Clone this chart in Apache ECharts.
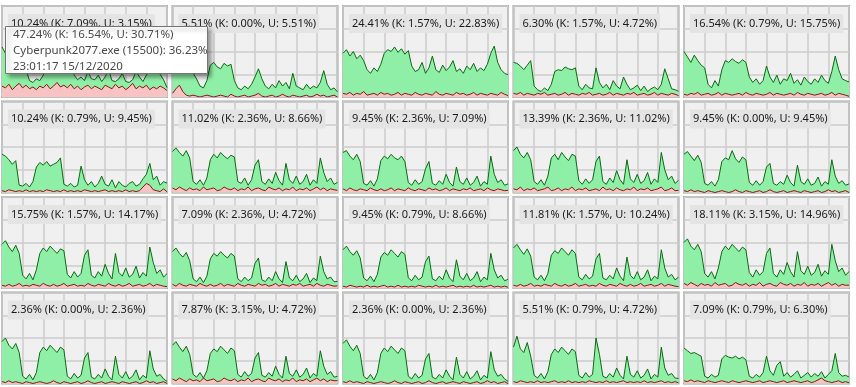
<!DOCTYPE html>
<html><head><meta charset="utf-8">
<script src="https://cdn.jsdelivr.net/npm/echarts@6/dist/echarts.min.js"></script>
<style>html,body{margin:0;padding:0;background:#fff}#c{width:856px;height:387px}</style>
</head><body><div id="c"></div>
<script>
// ---- data: total CPU (%) and kernel CPU (%) per logical processor ----
const cpu0Total  = [55,48,40,45,38,42,36,30,18,16,20,18,24,35,40,38,42,36,40,44,38,24,19,22,18,28,20,19,24,17,22,30,18,17,20,26,17,16,19,28,22,17,24,30,26,32,25,19,10.24];
const cpu0Kernel = [12,10,14,8,12,15,10,13,9,11,8,12,10,14,9,12,16,11,13,10,14,9,12,8,11,13,9,12,10,8,13,11,9,14,10,12,8,11,15,9,12,10,13,8,11,9,12,10,7.09];
const cpu1Total  = [40,36,30,34,28,30,26,20,12,10,18,35,38,33,31,37,34,36,18,10,8,12,9,14,22,31,20,12,9,14,10,18,12,16,9,26,12,10,8,14,9,12,10,16,29,14,8,10,5.51];
const cpu1Kernel = [4,9,13,6,2,1,2,1,0,1,2,1,0,1,2,1,0,3,1,0,1,2,0,1,2,4,1,0,1,2,0,1,3,1,0,2,1,0,1,2,0,1,3,1,2,0,1,2,0];
const cpu2Total  = [48,52,45,50,42,46,40,30,26,32,28,36,48,52,50,55,49,53,47,51,34,28,30,38,26,32,45,30,27,35,29,33,40,28,31,26,34,30,37,28,32,29,36,48,56,38,30,26,24.41];
const cpu2Kernel = [4,3,5,2,4,3,6,2,3,4,2,5,3,4,2,3,5,2,4,3,2,5,3,2,4,3,2,6,3,2,4,3,2,5,3,4,2,3,5,2,4,3,2,4,3,2,5,3,1.57];
const cpu3Total  = [38,37,34,30,35,40,12,8,6,10,7,14,28,30,29,33,31,30,32,12,8,14,10,9,32,16,10,14,8,18,12,9,22,14,8,10,13,7,12,6,9,11,8,14,31,20,9,8,6.30];
const cpu3Kernel = [4,3,5,2,4,3,2,4,3,5,2,3,4,2,3,5,2,4,3,2,4,3,5,2,3,4,2,3,5,2,4,3,2,4,3,5,2,3,4,2,3,5,2,4,3,2,4,3,1.57];
const cpu4Total  = [50,44,38,46,40,35,32,14,10,18,12,30,40,38,42,39,37,41,38,22,16,20,14,18,34,22,16,24,14,20,18,26,15,19,13,22,17,14,20,16,24,18,15,28,45,30,20,18,16.54];
const cpu4Kernel = [3,2,4,3,5,2,3,4,2,3,5,2,4,3,2,3,4,2,5,3,2,4,3,2,3,5,2,4,3,2,3,4,2,5,3,2,4,3,2,3,4,2,3,5,2,4,3,2,0.79];
const cpu5Total  = [42,40,36,31,35,8,7,10,6,12,28,33,30,34,29,31,33,38,9,7,10,6,8,29,14,8,12,6,10,18,9,7,14,5,12,8,6,10,12,7,9,15,20,32,14,18,8,12,10.24];
const cpu5Kernel = [2,1,3,2,1,2,1,3,1,2,1,2,1,3,2,1,2,1,3,1,2,1,2,1,3,2,1,2,1,2,3,1,2,1,2,1,3,1,2,1,2,6,10,8,3,2,1,4,0.79];
const cpu6Total  = [45,49,44,40,46,38,12,9,14,8,16,36,42,38,44,40,37,41,39,12,10,16,8,14,30,36,12,9,15,10,22,13,8,32,14,10,18,9,12,20,8,14,10,38,22,12,16,9,11.02];
const cpu6Kernel = [5,3,6,4,2,5,3,4,2,6,3,4,5,2,3,6,4,3,5,2,4,3,6,2,4,5,3,2,6,4,3,5,2,4,3,6,2,4,3,5,2,4,6,3,5,2,4,3,2.36];
const cpu7Total  = [44,46,40,36,42,34,10,8,13,7,15,35,40,37,42,38,36,40,34,11,8,14,9,12,26,34,10,8,13,9,20,11,7,28,12,9,16,8,11,18,7,12,9,40,20,11,14,8,9.45];
const cpu7Kernel = [4,2,5,3,2,4,3,2,5,3,2,4,2,3,5,2,4,3,2,5,3,2,4,3,2,5,3,4,2,3,5,2,4,3,2,4,3,5,2,3,4,2,5,3,2,4,3,2,2.36];
const cpu8Total  = [46,50,42,38,44,36,12,9,14,8,18,38,42,36,44,39,35,42,40,13,9,15,10,14,34,40,12,9,16,11,24,14,9,36,15,11,20,10,13,22,9,15,11,44,25,14,18,10,13.39];
const cpu8Kernel = [4,3,6,2,4,3,5,2,3,4,6,2,3,5,2,4,3,6,2,4,3,5,2,3,4,2,6,3,4,2,5,3,2,4,3,6,2,4,3,5,2,3,4,6,2,3,5,2,2.36];
const cpu9Total  = [42,45,40,35,41,33,10,8,12,7,14,34,38,36,46,37,33,39,36,11,8,13,8,12,28,32,10,8,12,9,19,11,7,30,12,9,15,8,10,17,7,12,9,36,18,10,13,8,9.45];
const cpu9Kernel = [2,1,3,1,2,1,0,2,1,0,1,2,1,0,1,3,1,0,2,1,0,1,2,0,1,3,1,0,1,2,0,1,2,1,0,2,1,0,1,2,0,1,3,1,2,0,1,2,0];
const cpu10Total  = [48,52,45,40,47,38,14,10,16,9,20,38,44,40,46,42,38,43,41,15,11,18,12,16,36,42,14,11,18,13,26,16,10,38,17,13,22,12,15,24,11,17,13,45,28,16,20,12,15.75];
const cpu10Kernel = [3,2,4,2,3,5,2,3,2,4,3,2,5,3,2,4,2,3,5,2,3,4,2,3,2,5,3,2,4,3,2,5,3,2,4,2,3,5,2,3,4,2,3,5,2,4,3,2,1.57];
const cpu11Total  = [40,44,38,34,39,30,10,7,12,6,13,32,38,35,40,36,33,38,35,10,7,12,8,11,27,33,9,7,12,8,18,10,6,29,11,8,14,7,10,16,6,11,8,35,18,10,12,7,7.09];
const cpu11Kernel = [4,2,5,3,2,4,3,2,5,3,2,4,2,3,5,2,4,3,2,5,3,2,4,3,2,5,3,4,2,3,5,2,4,3,2,4,3,5,2,3,4,2,5,3,2,4,3,2,2.36];
const cpu12Total  = [42,46,40,36,41,33,11,8,13,7,15,34,39,36,42,38,34,40,37,11,8,14,9,12,29,35,10,8,13,9,20,11,7,31,13,9,16,8,11,18,7,12,9,38,20,11,14,8,9.45];
const cpu12Kernel = [2,1,3,2,1,2,1,3,1,2,1,2,3,1,2,1,3,1,2,1,2,1,3,2,1,2,1,3,1,2,1,2,3,1,2,1,2,1,3,1,2,1,2,3,1,2,1,2,0.79];
const cpu13Total  = [44,48,42,37,43,35,12,9,14,8,16,36,41,38,44,40,36,42,38,12,9,15,10,13,32,38,11,9,14,10,22,13,8,34,14,10,18,9,12,20,8,13,10,42,22,12,15,9,11.81];
const cpu13Kernel = [3,2,4,2,3,5,2,3,2,4,3,2,5,3,2,4,2,3,5,2,3,4,2,3,2,5,3,2,4,3,2,5,3,2,4,2,3,5,2,3,4,2,3,5,2,4,3,2,1.57];
const cpu14Total  = [50,54,46,42,48,40,16,12,18,10,22,40,46,42,48,44,40,45,42,17,12,20,14,18,38,44,16,12,20,15,28,18,12,40,19,15,24,14,17,26,13,19,15,48,30,18,22,14,18.11];
const cpu14Kernel = [5,3,6,4,2,5,3,4,2,6,3,4,5,2,3,6,4,3,5,2,4,3,6,2,4,5,3,2,6,4,3,5,2,4,3,6,2,4,3,5,2,4,6,3,5,2,4,3,3.15];
const cpu15Total  = [46,50,42,38,44,34,8,5,10,4,12,34,40,36,42,38,34,40,37,8,5,11,6,9,28,34,7,5,10,6,16,8,4,30,10,6,13,5,8,15,4,9,6,36,16,8,10,5,2.36];
const cpu15Kernel = [2,1,3,1,2,1,0,2,1,0,1,2,1,0,1,3,1,0,2,1,0,1,2,0,1,3,1,0,1,2,0,1,2,1,0,2,1,0,1,2,0,1,3,1,2,0,1,2,0];
const cpu16Total  = [42,46,40,35,41,32,10,7,12,6,14,33,38,35,41,37,33,39,36,10,7,13,8,11,28,34,9,7,12,8,19,10,6,30,11,8,15,7,10,17,6,11,8,36,19,10,13,7,7.87];
const cpu16Kernel = [5,3,6,4,2,5,3,4,2,6,3,4,5,2,3,6,4,3,5,2,4,3,6,2,4,5,3,2,6,4,3,5,2,4,3,6,2,4,3,5,2,4,6,3,5,2,4,3,3.15];
const cpu17Total  = [44,48,41,36,42,33,8,5,10,4,12,33,39,35,41,37,33,39,36,8,5,11,6,9,27,33,7,5,10,6,15,8,4,29,10,6,13,5,8,14,4,9,6,35,15,8,10,5,2.36];
const cpu17Kernel = [2,1,3,1,2,1,0,2,1,0,1,2,1,0,1,3,1,0,2,1,0,1,2,0,1,3,1,0,1,2,0,1,2,1,0,2,1,0,1,2,0,1,3,1,2,0,1,2,0];
const cpu18Total  = [40,52,38,34,45,30,9,6,11,5,13,32,38,34,40,36,32,38,35,9,6,12,7,10,50,32,8,6,11,7,17,9,5,30,10,7,14,6,9,16,5,10,7,40,17,9,11,6,5.51];
const cpu18Kernel = [2,1,3,2,1,2,1,3,1,2,1,2,3,1,2,1,3,1,2,1,2,1,3,2,1,2,1,3,1,2,1,2,3,1,2,1,2,1,3,1,2,1,2,3,1,2,1,2,0.79];
const cpu19Total  = [39,36,33,34,32,30,8,6,10,7,9,27,31,29,28,30,27,29,26,8,6,10,7,12,30,14,9,20,24,8,12,7,10,14,6,9,12,7,11,8,13,6,10,14,33,12,8,9,7.09];
const cpu19Kernel = [3,2,4,2,3,2,1,3,2,1,2,3,2,1,3,2,1,2,3,2,1,2,3,1,2,3,2,1,2,3,1,2,3,2,1,2,3,1,2,4,6,3,2,1,2,3,1,2,0.79];

const panelLabels = [
  "10.24% (K: 7.09%, U: 3.15%)","5.51% (K: 0.00%, U: 5.51%)","24.41% (K: 1.57%, U: 22.83%)","6.30% (K: 1.57%, U: 4.72%)","16.54% (K: 0.79%, U: 15.75%)",
  "10.24% (K: 0.79%, U: 9.45%)","11.02% (K: 2.36%, U: 8.66%)","9.45% (K: 2.36%, U: 7.09%)","13.39% (K: 2.36%, U: 11.02%)","9.45% (K: 0.00%, U: 9.45%)",
  "15.75% (K: 1.57%, U: 14.17%)","7.09% (K: 2.36%, U: 4.72%)","9.45% (K: 0.79%, U: 8.66%)","11.81% (K: 1.57%, U: 10.24%)","18.11% (K: 3.15%, U: 14.96%)",
  "2.36% (K: 0.00%, U: 2.36%)","7.87% (K: 3.15%, U: 4.72%)","2.36% (K: 0.00%, U: 2.36%)","5.51% (K: 0.79%, U: 4.72%)","7.09% (K: 0.79%, U: 6.30%)"
];
const tooltipLines = ["47.24% (K: 16.54%, U: 30.71%)", "Cyberpunk2077.exe (15500): 36.23%", "23:01:17 15/12/2020"];
const yTicks = [0, 25, 50, 75, 100];

const totals = [cpu0Total,cpu1Total,cpu2Total,cpu3Total,cpu4Total,cpu5Total,cpu6Total,cpu7Total,cpu8Total,cpu9Total,
                cpu10Total,cpu11Total,cpu12Total,cpu13Total,cpu14Total,cpu15Total,cpu16Total,cpu17Total,cpu18Total,cpu19Total];
const kernels = [cpu0Kernel,cpu1Kernel,cpu2Kernel,cpu3Kernel,cpu4Kernel,cpu5Kernel,cpu6Kernel,cpu7Kernel,cpu8Kernel,cpu9Kernel,
                 cpu10Kernel,cpu11Kernel,cpu12Kernel,cpu13Kernel,cpu14Kernel,cpu15Kernel,cpu16Kernel,cpu17Kernel,cpu18Kernel,cpu19Kernel];

// ---- layout ----
const colLeft = [2, 172.5, 343, 513.5, 684];
const rowTop = [6, 101.5, 197, 292.5];
const W = 165, H = 91;
const FONT = '"Noto Sans", "DejaVu Sans", sans-serif';

const grids = [], xAxes = [], yAxes = [], series = [], titles = [];
for (let i = 0; i < 20; i++) {
  const r = Math.floor(i / 5), c = i % 5;
  grids.push({left: colLeft[c], top: rowTop[r], width: W, height: H, show: true,
    backgroundColor: '#f0f0f0', borderColor: '#a4a4a4', borderWidth: 2});
  xAxes.push({type: 'value', gridIndex: i, min: 0, max: 48, interval: 6,
    axisLine: {show: false}, axisTick: {show: false}, axisLabel: {show: false},
    splitLine: {show: true, lineStyle: {color: '#cdcdcd', width: 1.5}}});
  yAxes.push({type: 'value', gridIndex: i, min: yTicks[0], max: yTicks[yTicks.length - 1], interval: yTicks[1] - yTicks[0],
    axisLine: {show: false}, axisTick: {show: false}, axisLabel: {show: false},
    splitLine: {show: true, lineStyle: {color: '#cdcdcd', width: 1.5}}});
  series.push({type: 'line', xAxisIndex: i, yAxisIndex: i, symbol: 'none', silent: true,
    data: totals[i].map((v, j) => [j, v]),
    lineStyle: {color: '#0c6a12', width: 1}, areaStyle: {color: '#90efa6', opacity: 1}, z: 2});
  series.push({type: 'line', xAxisIndex: i, yAxisIndex: i, symbol: 'none', silent: true,
    data: kernels[i].map((v, j) => [j, v]),
    lineStyle: {color: '#8a1414', width: 1}, areaStyle: {color: '#f9c3c3', opacity: 1}, z: 3});
  titles.push({text: panelLabels[i], left: colLeft[c] + 6, top: rowTop[r] + 8,
    backgroundColor: '#e4e4e4', padding: [3, 3, 3, 3],
    textStyle: {fontFamily: FONT, fontSize: 11, fontWeight: 'normal', color: '#1b1b1b', lineHeight: 13}});
}

const chart = echarts.init(document.getElementById('c'), null, {renderer: 'canvas'});
chart.setOption({
  animation: false,
  backgroundColor: '#ffffff',
  title: titles,
  grid: grids,
  xAxis: xAxes,
  yAxis: yAxes,
  series: series,
  graphic: [
    {type: 'rect', z: 100, shape: {x: 5.5, y: 26.5, width: 202, height: 47},
      style: {fill: '#ffffff', stroke: '#767676', lineWidth: 1,
        shadowBlur: 4, shadowOffsetX: 3, shadowOffsetY: 3, shadowColor: 'rgba(0,0,0,0.35)'}},
    {type: 'text', z: 101, x: 13, y: 27,
      style: {text: tooltipLines.join('\n'), font: '11.5px ' + FONT, fill: '#4a4a4a', lineHeight: 16}}
  ]
});
</script>
</body></html>
